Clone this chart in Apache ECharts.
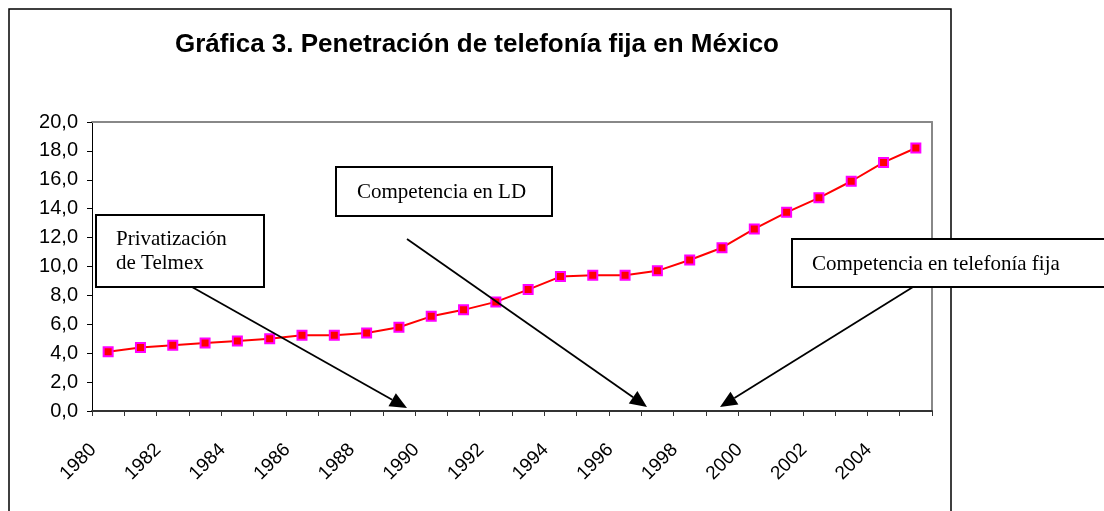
<!DOCTYPE html>
<html>
<head>
<meta charset="utf-8">
<title>Gráfica 3</title>
<script src="https://cdn.jsdelivr.net/npm/echarts@6/dist/echarts.min.js"></script>
<style>
  html, body { margin: 0; padding: 0; background: #fff; }
  #chart { width: 1104px; height: 511px; }
</style>
</head>
<body>
<div id="chart"></div>
<script>
// datos
const years = ['1980', '1981', '1982', '1983', '1984', '1985', '1986', '1987', '1988', '1989',
  '1990', '1991', '1992', '1993', '1994', '1995', '1996', '1997', '1998', '1999',
  '2000', '2001', '2002', '2003', '2004', '2005'];
const penetracion = [4.1, 4.4, 4.55, 4.7, 4.85, 5.0, 5.25, 5.25, 5.4, 5.8,
  6.55, 7.0, 7.55, 8.4, 9.3, 9.4, 9.4, 9.7, 10.45, 11.3,
  12.6, 13.75, 14.75, 15.9, 17.2, 18.2];
const notas = [
  ['Privatización', 'de Telmex'],
  ['Competencia en LD'],
  ['Competencia en telefonía fija']
];

const SANS = '"Liberation Sans", Arial, sans-serif';
const SERIF = '"Liberation Serif", "Times New Roman", serif';

let myChart = echarts.init(document.getElementById('chart'), null, { renderer: 'canvas' });

// cajas de texto y flechas (anotaciones, en pixeles)
const cajas = [
  { x: 96, y: 215, w: 168, h: 72, tx: 116, ty: 239 },
  { x: 336, y: 167, w: 216, h: 49, tx: 357, ty: 192 },
  { x: 792, y: 239, w: 330, h: 48, tx: 812, ty: 264 }
];
const flechas = [
  [192, 287, 407, 408],
  [407, 239, 647, 407],
  [913, 287, 720, 407]
];

function flecha(p) {
  let [x1, y1, x2, y2] = p;
  let dx = x2 - x1, dy = y2 - y1;
  let len = Math.sqrt(dx * dx + dy * dy);
  let ux = dx / len, uy = dy / len;
  let hl = 17, hw = 7.5;
  let bx = x2 - ux * hl, by = y2 - uy * hl;
  return [{
    type: 'line', z: 100,
    shape: { x1: x1, y1: y1, x2: bx, y2: by },
    style: { stroke: '#000', lineWidth: 1.8 }
  }, {
    type: 'polygon', z: 100,
    shape: { points: [[x2, y2], [bx - uy * hw, by + ux * hw], [bx + uy * hw, by - ux * hw]] },
    style: { fill: '#000' }
  }];
}

let graficos = [{
  type: 'rect', z: 50,
  shape: { x: 9, y: 9, width: 942, height: 530 },
  style: { fill: 'none', stroke: '#000', lineWidth: 1.5 }
}];
cajas.forEach((c, i) => {
  graficos.push({
    type: 'rect', z: 100,
    shape: { x: c.x, y: c.y, width: c.w, height: c.h },
    style: { fill: '#fff', stroke: '#000', lineWidth: 2 }
  });
  notas[i].forEach((t, k) => {
    graficos.push({
      type: 'text', z: 101, x: c.tx, y: c.ty + k * 24,
      style: { text: t, font: '21px ' + SERIF, fill: '#000', verticalAlign: 'middle', align: 'left' }
    });
  });
});
flechas.forEach(f => { graficos = graficos.concat(flecha(f)); });

let option = {
  backgroundColor: '#fff',
  animation: false,
  title: {
    text: 'Gráfica 3. Penetración de telefonía fija en México',
    left: 477,
    top: 32,
    textAlign: 'center',
    padding: 0,
    textStyle: { fontFamily: SANS, fontWeight: 'bold', fontSize: 26, color: '#000' }
  },
  grid: { left: 92, top: 122, width: 840, height: 289, containLabel: false },
  xAxis: [{
    type: 'category',
    data: years,
    boundaryGap: true,
    axisLine: { lineStyle: { color: '#333', width: 2 } },
    axisTick: { show: true, interval: 0, length: 5, lineStyle: { color: '#333', width: 1 } },
    axisLabel: {
      interval: 1,
      rotate: 45,
      margin: 21,
      padding: [0, 21, 0, 0],
      color: '#000',
      fontFamily: SANS,
      fontSize: 19
    },
    splitLine: { show: false }
  }, {
    type: 'category',
    data: years,
    position: 'top',
    axisLine: { show: true, onZero: false, lineStyle: { color: '#888', width: 2 } },
    axisTick: { show: false },
    axisLabel: { show: false }
  }],
  yAxis: [{
    type: 'value',
    min: 0,
    max: 20,
    interval: 2,
    axisLine: { show: true, lineStyle: { color: '#000', width: 1 } },
    axisTick: { show: true, length: 5, lineStyle: { color: '#000' } },
    axisLabel: {
      margin: 14,
      color: '#000',
      fontFamily: SANS,
      fontSize: 20,
      formatter: v => v.toFixed(1).replace('.', ',')
    },
    splitLine: { show: false }
  }, {
    type: 'value',
    min: 0,
    max: 20,
    interval: 2,
    position: 'right',
    axisLine: { show: true, onZero: false, lineStyle: { color: '#888', width: 2 } },
    axisTick: { show: false },
    axisLabel: { show: false },
    splitLine: { show: false }
  }],
  series: [{
    type: 'line',
    data: penetracion,
    smooth: false,
    symbol: 'rect',
    symbolSize: 9,
    lineStyle: { color: '#ff0000', width: 2 },
    itemStyle: { color: '#ff0000', borderColor: '#ff00ff', borderWidth: 2 }
  }],
  graphic: graficos
};

myChart.setOption(option);
</script>
</body>
</html>
